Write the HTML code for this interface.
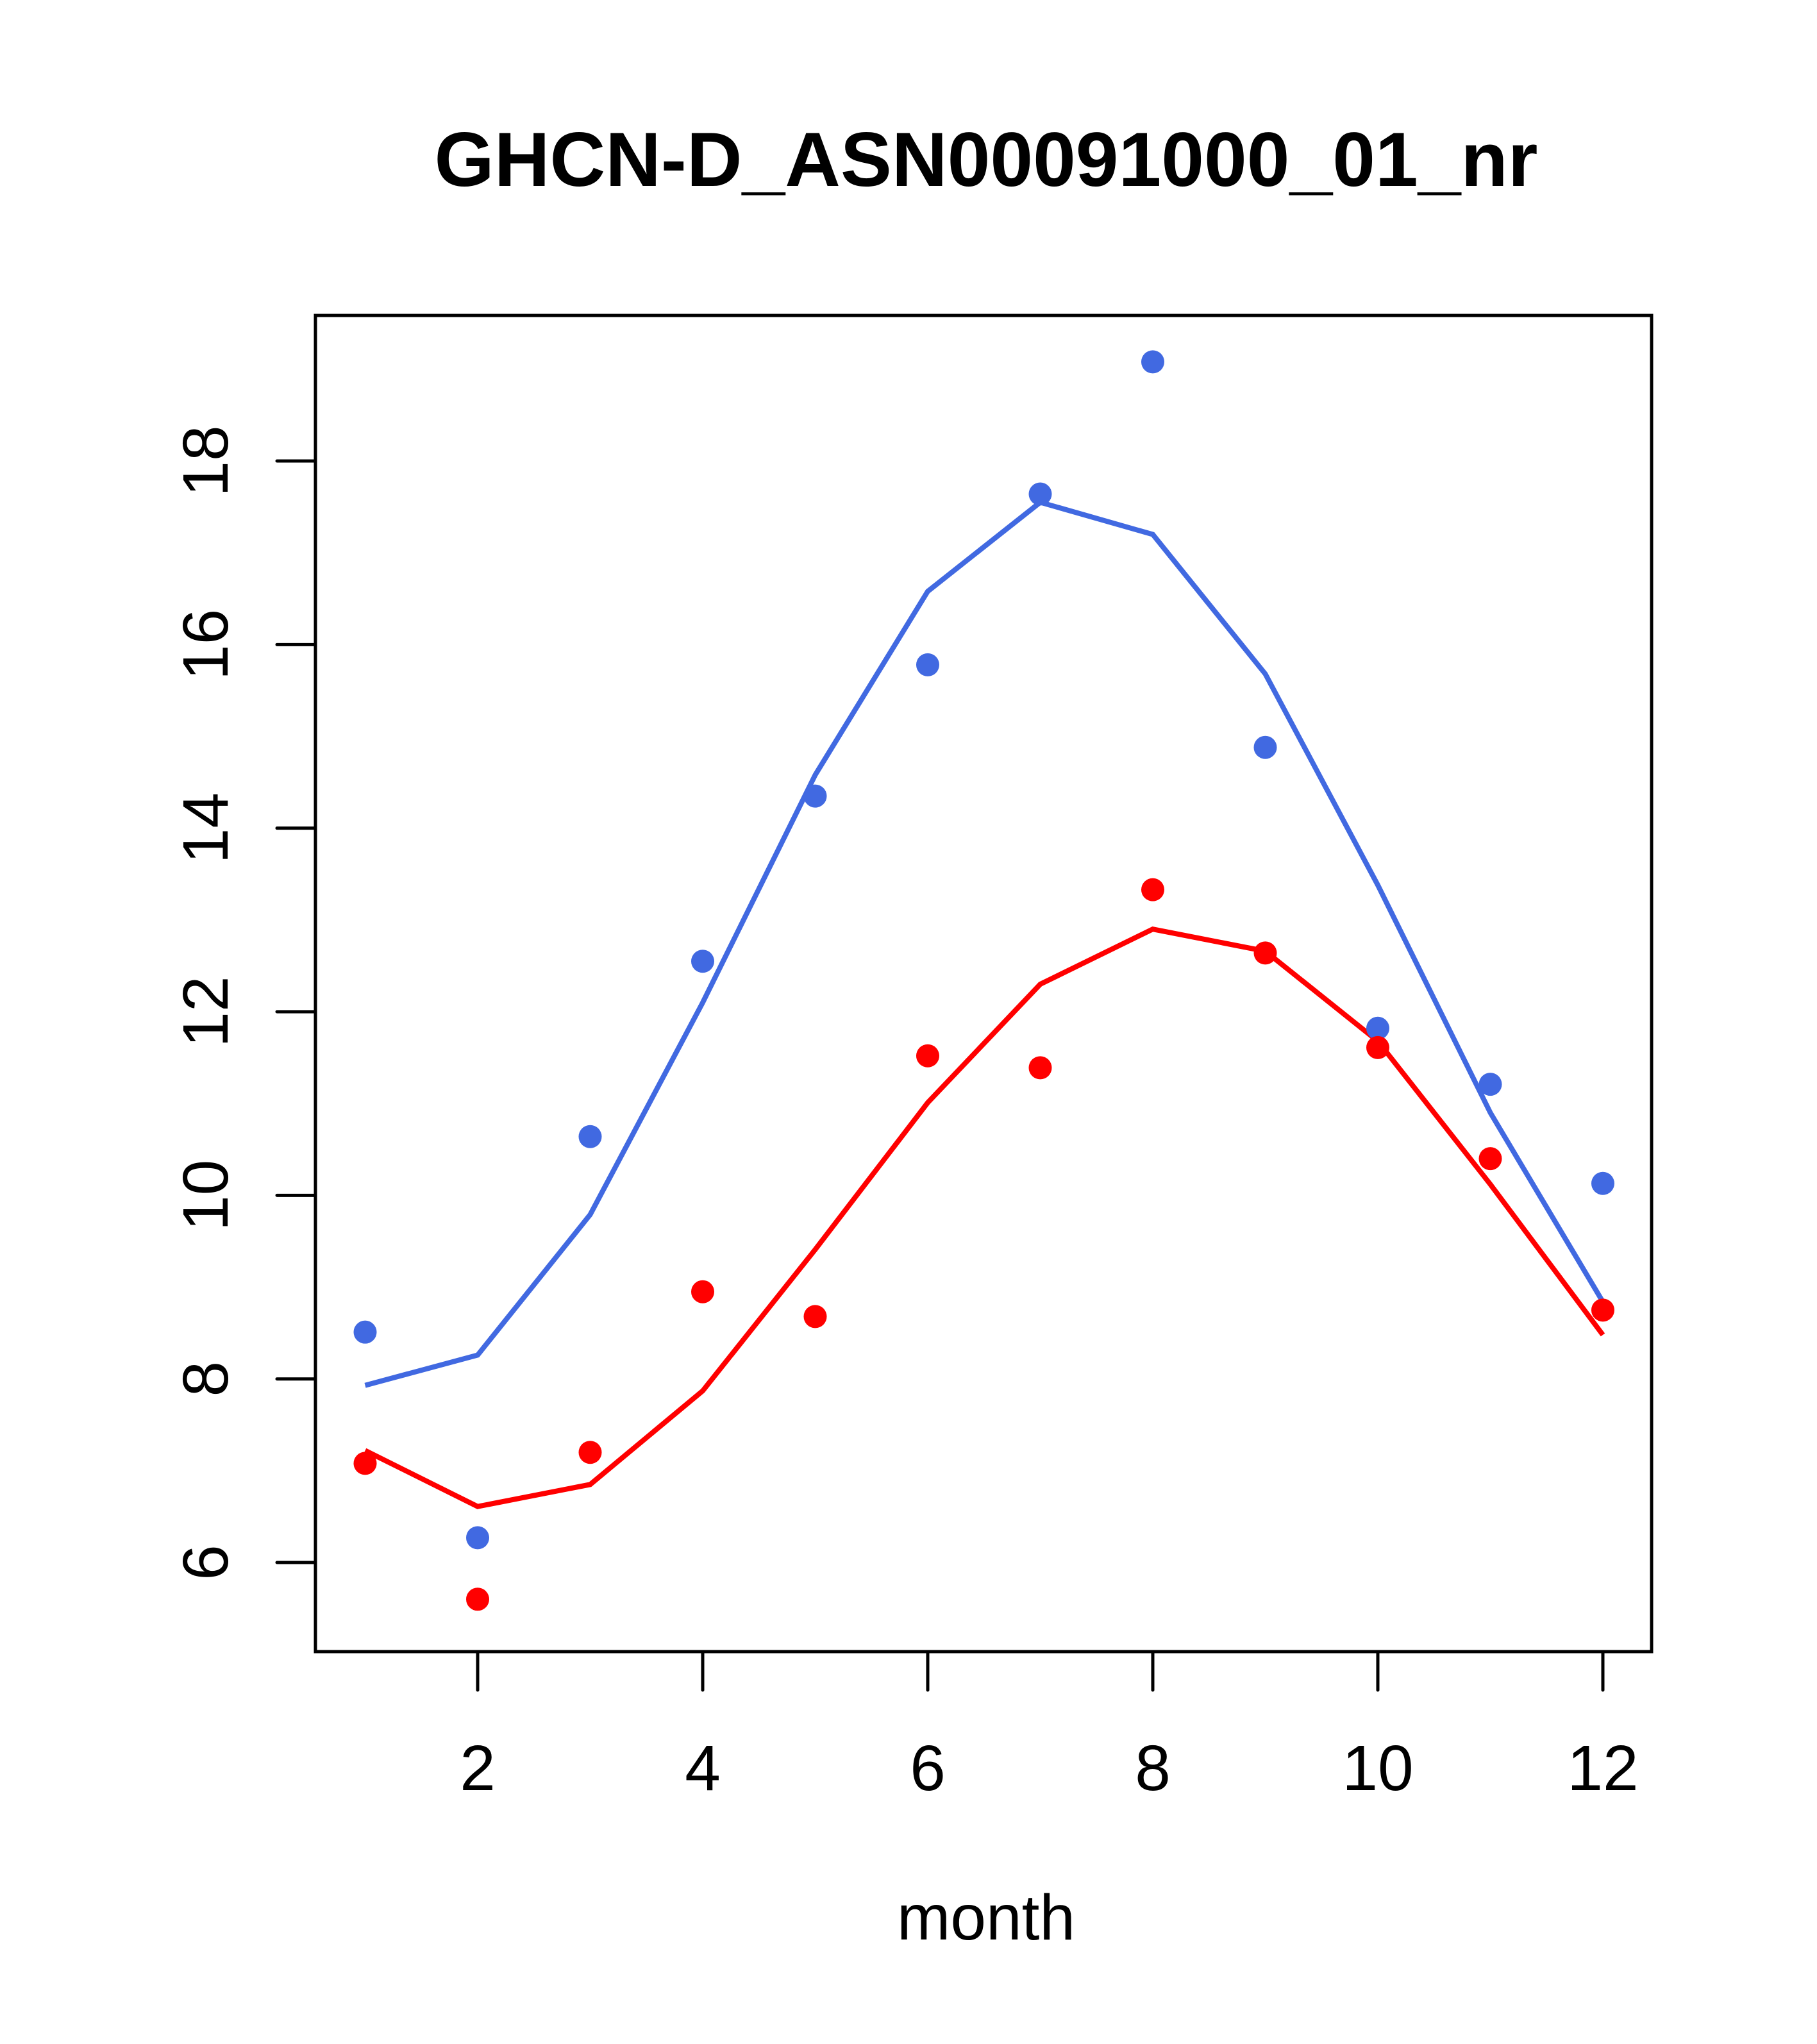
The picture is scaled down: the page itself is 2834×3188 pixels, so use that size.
<!DOCTYPE html>
<html><head><meta charset="utf-8"><style>html,body{margin:0;padding:0;background:#fff}svg{display:block}</style></head>
<body>
<svg id="chart" width="2834" height="3188" xmlns="http://www.w3.org/2000/svg" font-family="'Liberation Sans', sans-serif">
<rect width="2834" height="3188" fill="#fff"/>
<text x="1538" y="290" font-size="120" font-weight="bold" text-anchor="middle">GHCN-D_ASN00091000_01_nr</text>
<g id="marks"></g>
<rect x="492" y="492" width="2084" height="2084" fill="none" stroke="#000" stroke-width="5"/>
<g id="axes"></g>
<text x="1538" y="3025" font-size="100" text-anchor="middle">month</text>
</svg>
<script>
const months = [1,2,3,4,5,6,7,8,9,10,11,12];
const bluePoints = [8.51,6.27,10.64,12.55,14.35,15.78,17.64,19.08,14.88,11.82,11.21,10.13];
const blueLine = [7.93,8.26,9.79,12.1,14.58,16.58,17.55,17.2,15.68,13.38,10.9,8.84];
const redPoints = [7.08,5.6,7.2,8.95,8.68,11.52,11.39,13.33,12.64,11.61,10.4,8.75];
const redLine = [7.22,6.61,6.85,7.87,9.41,11.01,12.3,12.9,12.66,11.68,10.12,8.48];
const xTicks = [2,4,6,8,10,12];
const yTicks = [6,8,10,12,14,16,18];

const NS='http://www.w3.org/2000/svg';
function sx(m){return 745+(m-2)*175.5;}
function sy(v){return 719+(18-v)*143.17;}
const marks=document.getElementById('marks'), axes=document.getElementById('axes');
function mk(tag,attrs,parent){const e=document.createElementNS(NS,tag);for(const k in attrs)e.setAttribute(k,attrs[k]);parent.appendChild(e);return e;}

function drawLine(vals,color,name){
  const p=mk('polyline',{points:vals.map((v,i)=>sx(months[i])+','+sy(v)).join(' '),fill:'none',stroke:color,'stroke-width':8},marks);
  
  
}
function drawPts(vals,color,name){
  vals.forEach((v,i)=>{
    const c=mk('circle',{cx:sx(months[i]),cy:sy(v),r:18,fill:color},marks);
    
    
  });
}
drawLine(blueLine,'#4169E1','blue-smooth-line');
drawLine(redLine,'#FF0000','red-smooth-line');
drawPts(bluePoints,'#4169E1','blue-point');
drawPts(redPoints,'#FF0000','red-point');

xTicks.forEach(t=>{
  const l=mk('line',{x1:sx(t),x2:sx(t),y1:2576,y2:2636,stroke:'#000','stroke-width':5,'stroke-linecap':'round'},axes);
  
  
  const tx=mk('text',{x:sx(t),y:2792,'font-size':100,'text-anchor':'middle'},axes);
  tx.textContent=t;
  
  
});
yTicks.forEach(t=>{
  const l=mk('line',{x1:432,x2:492,y1:sy(t),y2:sy(t),stroke:'#000','stroke-width':5,'stroke-linecap':'round'},axes);
  
  
  const tx=mk('text',{x:0,y:0,'font-size':100,'text-anchor':'middle',transform:'translate(355,'+sy(t)+') rotate(-90)'},axes);
  tx.textContent=t;
  
  
});
</script>
</body></html>
